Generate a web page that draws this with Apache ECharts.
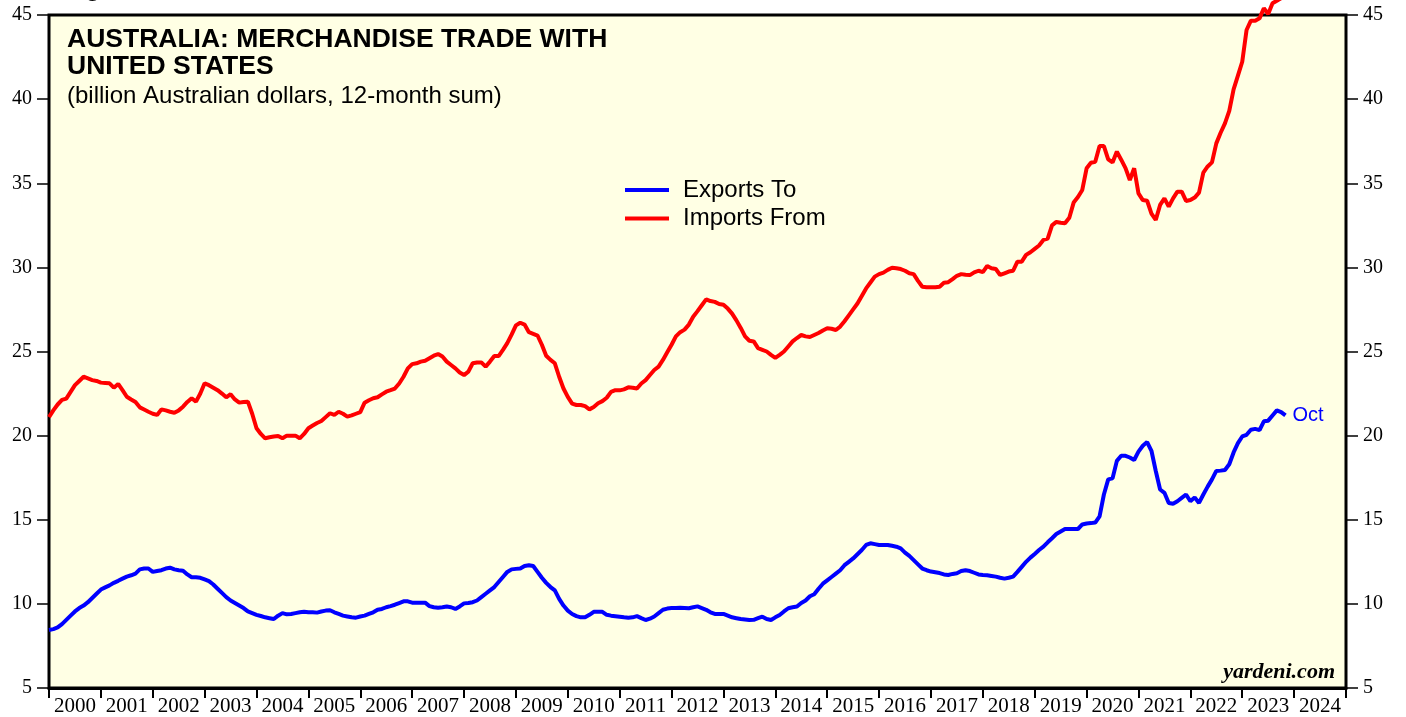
<!DOCTYPE html>
<html>
<head>
<meta charset="utf-8">
<title>Australia: merchandise trade with United States</title>
<script src="https://cdn.jsdelivr.net/npm/echarts@6/dist/echarts.min.js"></script>
<style>
  html, body { margin: 0; padding: 0; background: #fff; }
  #chart { width: 1406px; height: 717px; }
</style>
</head>
<body>
<div id="chart"></div>
<script>
// year bands along the bottom axis
var years = [];
for (var y = 2000; y <= 2024; y++) years.push(String(y));

// monthly 12-month sums, billion A$; first value is Dec 1999, then Jan 2000 .. Oct 2023
var exportsTo = [8.45,
  8.5, 8.6, 8.8, 9.05, 9.3, 9.55, 9.75, 9.9, 10.1, 10.35, 10.6, 10.85,          // 2000
  10.98, 11.1, 11.25, 11.37, 11.5, 11.62, 11.7, 11.8, 12.05, 12.1, 12.1, 11.9,  // 2001
  11.95, 12.0, 12.1, 12.15, 12.05, 12.0, 11.97, 11.75, 11.58, 11.58, 11.55, 11.45, // 2002
  11.35, 11.15, 10.9, 10.65, 10.4, 10.2, 10.05, 9.9, 9.75, 9.55, 9.45, 9.35,    // 2003
  9.28, 9.2, 9.15, 9.1, 9.3, 9.45, 9.38, 9.4, 9.45, 9.5, 9.53, 9.5,             // 2004
  9.5, 9.48, 9.55, 9.6, 9.62, 9.5, 9.4, 9.3, 9.25, 9.2, 9.18, 9.25,             // 2005
  9.3, 9.4, 9.5, 9.65, 9.7, 9.8, 9.87, 9.95, 10.05, 10.15, 10.15, 10.07,        // 2006
  10.07, 10.07, 10.07, 9.87, 9.8, 9.77, 9.8, 9.84, 9.8, 9.7, 9.85, 10.03,       // 2007
  10.05, 10.1, 10.2, 10.4, 10.6, 10.8, 11.0, 11.3, 11.6, 11.9, 12.05, 12.08,    // 2008
  12.1, 12.25, 12.3, 12.25, 11.9, 11.55, 11.25, 11.0, 10.8, 10.3, 9.9, 9.6,     // 2009
  9.4, 9.27, 9.2, 9.2, 9.35, 9.53, 9.53, 9.53, 9.35, 9.3, 9.27, 9.24,           // 2010
  9.2, 9.17, 9.2, 9.27, 9.15, 9.04, 9.12, 9.25, 9.45, 9.65, 9.72, 9.75,         // 2011
  9.76, 9.77, 9.76, 9.74, 9.8, 9.85, 9.75, 9.65, 9.5, 9.4, 9.4, 9.4,            // 2012
  9.3, 9.2, 9.15, 9.1, 9.07, 9.04, 9.05, 9.15, 9.24, 9.1, 9.04, 9.2,            // 2013
  9.34, 9.55, 9.74, 9.8, 9.84, 10.05, 10.2, 10.45, 10.57, 10.9, 11.2, 11.4,     // 2014
  11.6, 11.8, 12.0, 12.3, 12.5, 12.7, 12.95, 13.2, 13.5, 13.6, 13.55, 13.5,     // 2015
  13.5, 13.5, 13.45, 13.4, 13.3, 13.05, 12.85, 12.6, 12.35, 12.1, 12.0, 11.92,  // 2016
  11.88, 11.83, 11.75, 11.72, 11.78, 11.82, 11.95, 12.0, 11.95, 11.85, 11.75, 11.72, // 2017
  11.7, 11.66, 11.62, 11.55, 11.5, 11.55, 11.62, 11.9, 12.2, 12.5, 12.75, 12.97, // 2018
  13.2, 13.4, 13.66, 13.9, 14.15, 14.3, 14.45, 14.45, 14.45, 14.45, 14.72, 14.78, // 2019
  14.8, 14.83, 15.2, 16.5, 17.4, 17.46, 18.5, 18.8, 18.8, 18.7, 18.55, 19.05,   // 2020
  19.4, 19.62, 19.1, 17.9, 16.8, 16.6, 16.0, 15.95, 16.1, 16.3, 16.5, 16.1,     // 2021
  16.33, 16.0, 16.5, 16.97, 17.4, 17.9, 17.92, 17.96, 18.3, 19.0, 19.55, 19.95, // 2022
  20.05, 20.35, 20.4, 20.33, 20.85, 20.89, 21.2, 21.5, 21.4, 21.2              // 2023
];

var importsFrom = [21.1,
  21.5, 21.85, 22.12, 22.2, 22.6, 23.0, 23.25, 23.5, 23.4, 23.3, 23.25, 23.15,  // 2000
  23.13, 23.11, 22.85, 23.07, 22.7, 22.31, 22.15, 22.0, 21.68, 21.55, 21.42, 21.3, // 2001
  21.23, 21.56, 21.5, 21.42, 21.36, 21.5, 21.72, 22.0, 22.22, 22.02, 22.5, 23.11, // 2002
  23.0, 22.85, 22.7, 22.5, 22.28, 22.46, 22.15, 21.96, 22.0, 22.02, 21.3, 20.44, // 2003
  20.1, 19.84, 19.9, 19.95, 19.98, 19.84, 20.0, 20.0, 20.0, 19.84, 20.1, 20.44, // 2004
  20.6, 20.75, 20.87, 21.1, 21.33, 21.23, 21.42, 21.3, 21.13, 21.2, 21.3, 21.4, // 2005
  21.96, 22.1, 22.22, 22.28, 22.45, 22.61, 22.7, 22.8, 23.1, 23.5, 24.0, 24.25, // 2006
  24.3, 24.4, 24.45, 24.6, 24.75, 24.85, 24.7, 24.4, 24.2, 24.0, 23.75, 23.6,   // 2007
  23.8, 24.3, 24.35, 24.35, 24.1, 24.4, 24.73, 24.73, 25.1, 25.5, 26.0, 26.55,  // 2008
  26.71, 26.6, 26.15, 26.05, 25.95, 25.4, 24.75, 24.5, 24.3, 23.5, 22.8, 22.3,  // 2009
  21.9, 21.82, 21.82, 21.75, 21.56, 21.7, 21.92, 22.05, 22.25, 22.6, 22.7, 22.69, // 2010
  22.75, 22.87, 22.85, 22.8, 23.1, 23.3, 23.6, 23.9, 24.1, 24.5, 24.95, 25.4,   // 2011
  25.9, 26.15, 26.3, 26.6, 27.07, 27.4, 27.75, 28.1, 28.0, 27.95, 27.82, 27.78, // 2012
  27.55, 27.25, 26.85, 26.4, 25.9, 25.64, 25.6, 25.2, 25.1, 25.0, 24.8, 24.62,  // 2013
  24.8, 25.0, 25.3, 25.6, 25.8, 25.98, 25.9, 25.86, 25.98, 26.1, 26.25, 26.38,  // 2014
  26.35, 26.28, 26.48, 26.8, 27.15, 27.5, 27.85, 28.3, 28.75, 29.1, 29.45, 29.6, // 2015
  29.69, 29.85, 29.98, 29.95, 29.9, 29.8, 29.65, 29.6, 29.2, 28.85, 28.82, 28.82, // 2016
  28.82, 28.85, 29.09, 29.12, 29.3, 29.5, 29.6, 29.56, 29.54, 29.7, 29.8, 29.72, // 2017
  30.08, 29.95, 29.9, 29.55, 29.65, 29.75, 29.8, 30.34, 30.34, 30.74, 30.9, 31.1, // 2018
  31.3, 31.63, 31.71, 32.5, 32.7, 32.65, 32.62, 32.95, 33.85, 34.18, 34.6, 35.89, // 2019
  36.22, 36.28, 37.21, 37.21, 36.42, 36.24, 36.88, 36.4, 35.9, 35.19, 35.89, 34.4, // 2020
  34.0, 33.96, 33.2, 32.82, 33.71, 34.1, 33.61, 34.1, 34.5, 34.5, 33.95, 34.0,  // 2021
  34.15, 34.44, 35.63, 36.0, 36.24, 37.37, 38.0, 38.56, 39.3, 40.58, 41.4, 42.22, // 2022
  44.11, 44.66, 44.66, 44.8, 45.4, 45.06, 45.7, 45.85, 46.0, 46.3              // 2023
];

var yTicks = { min: 5, max: 45, step: 5 };

// months counted from Dec 1999 -> position on a hidden value axis (12 per year)
function toPoints(arr) {
  return arr.map(function (v, i) { return [i, v]; });
}

var serif = '"Liberation Serif", "Times New Roman", serif';
var sans = '"Liberation Sans", Arial, sans-serif';

var myChart = echarts.init(document.getElementById('chart'), null, { renderer: 'canvas' });

var yAxisBase = {
  type: 'value',
  min: yTicks.min,
  max: yTicks.max,
  interval: yTicks.step,
  axisLine: { show: false },
  axisTick: { show: true, length: 12, lineStyle: { color: '#000', width: 1.5 } },
  axisLabel: { color: '#000', fontFamily: serif, fontSize: 20, margin: 17 },
  splitLine: { show: false }
};

var option = {
  backgroundColor: '#fff',
  animation: false,
  grid: {
    left: 49, right: 60, top: 15, bottom: 29,
    show: true,
    backgroundColor: '#ffffe4',
    borderColor: '#000',
    borderWidth: 3
  },
  title: {
    text: 'AUSTRALIA: MERCHANDISE TRADE WITH\nUNITED STATES',
    subtext: '(billion Australian dollars, 12-month sum)',
    left: 62, top: 21,
    itemGap: 4,
    textStyle: { fontFamily: sans, fontWeight: 'bold', fontSize: 26.5, lineHeight: 27, color: '#000' },
    subtextStyle: { fontFamily: sans, fontSize: 24, color: '#000' }
  },
  legend: {
    left: 620, top: 173,
    orient: 'vertical',
    icon: 'rect',
    itemWidth: 44, itemHeight: 4,
    itemGap: 4.5,
    textStyle: { fontFamily: sans, fontSize: 24, color: '#000', padding: [0, 0, 0, 9] },
    data: ['Exports To', 'Imports From']
  },
  xAxis: [
    {
      type: 'category',
      data: years,
      boundaryGap: true,
      axisLine: { show: true, lineStyle: { color: '#000', width: 3 } },
      axisTick: { show: true, length: 10, interval: 0, lineStyle: { color: '#000', width: 2 } },
      axisLabel: { interval: 0, color: '#000', fontFamily: serif, fontSize: 21, margin: 8 },
      splitLine: { show: false }
    },
    { type: 'value', min: 0, max: 300, show: false }
  ],
  yAxis: [
    Object.assign({ position: 'left' }, yAxisBase),
    Object.assign({ position: 'right' }, yAxisBase)
  ],
  graphic: [
    {
      type: 'text', left: 62, top: -24,
      style: { text: 'Figure 6.', fontFamily: sans, fontWeight: 'bold', fontSize: 26, fill: '#000' }
    },
    {
      type: 'text', right: 71, top: 661,
      style: { text: 'yardeni.com', fontFamily: serif, fontWeight: 'bold', fontStyle: 'italic', fontSize: 22, fill: '#000' }
    }
  ],
  series: [
    {
      name: 'Exports To',
      type: 'line',
      xAxisIndex: 1,
      yAxisIndex: 0,
      data: toPoints(exportsTo),
      showSymbol: false,
      clip: false,
      lineStyle: { color: '#0000ff', width: 4 },
      itemStyle: { color: '#0000ff' },
      endLabel: { show: true, formatter: 'Oct', color: '#0000ff', fontFamily: sans, fontSize: 20, distance: 7 }
    },
    {
      name: 'Imports From',
      type: 'line',
      xAxisIndex: 1,
      yAxisIndex: 0,
      data: toPoints(importsFrom),
      showSymbol: false,
      clip: false,
      lineStyle: { color: '#ff0000', width: 4 },
      itemStyle: { color: '#ff0000' }
    }
  ]
};

myChart.setOption(option);
</script>
</body>
</html>
